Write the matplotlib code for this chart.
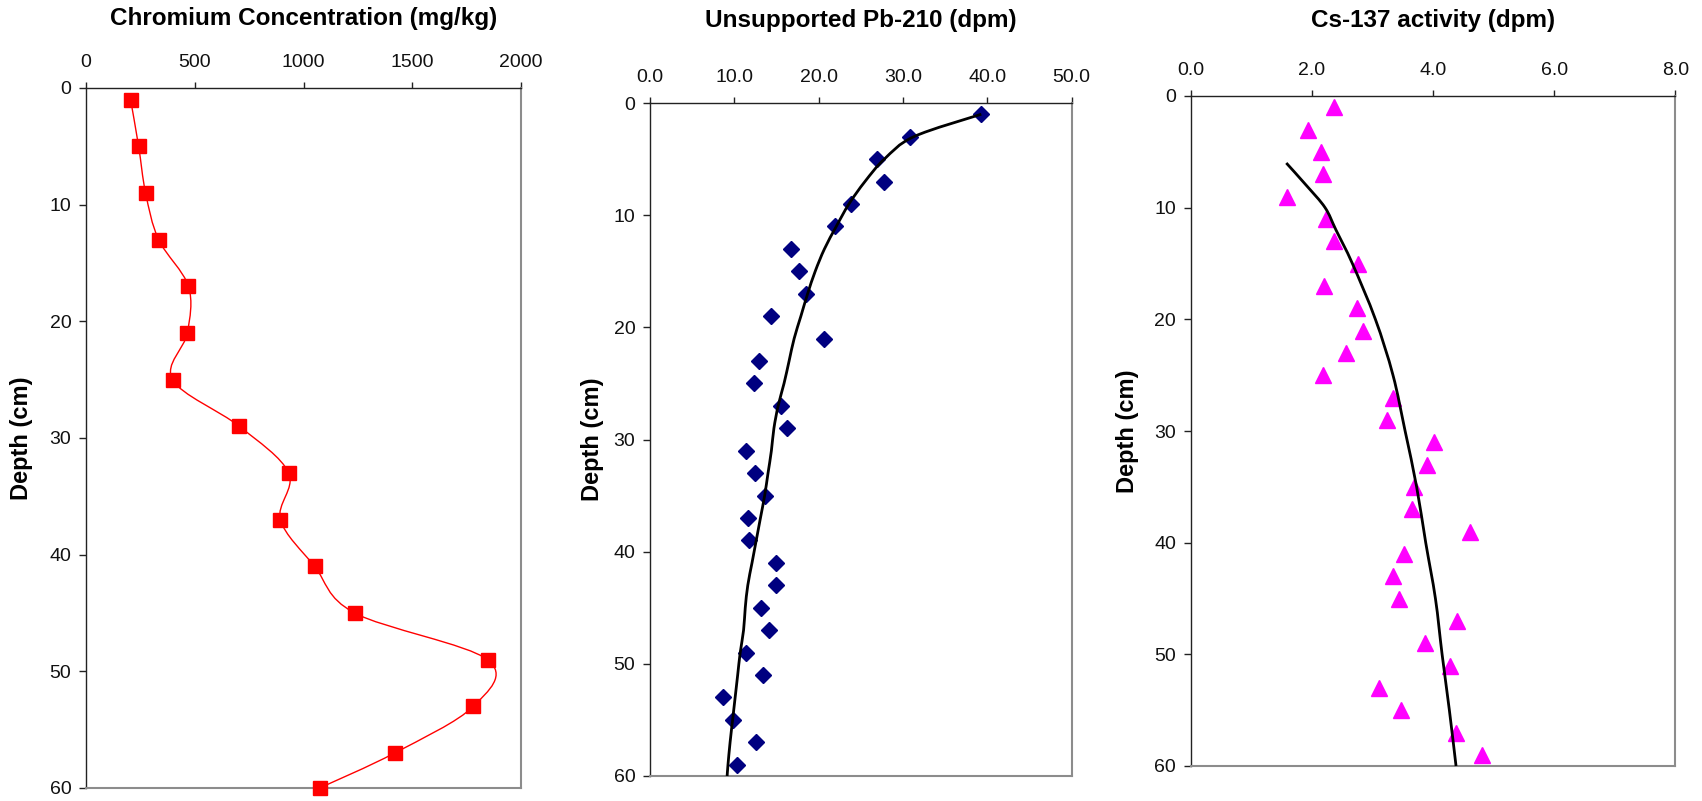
import numpy as np
import matplotlib
matplotlib.use("Agg")
import matplotlib.pyplot as plt
from matplotlib.path import Path
from matplotlib.patches import PathPatch

plt.rcParams['font.family'] = ['Liberation Sans', 'DejaVu Sans']

# chromium profile
cr_depth = [1, 5, 9, 13, 17, 21, 25, 29, 33, 37, 41, 45, 49, 53, 57, 60]
cr_conc = [205, 242, 274, 334, 471, 466, 398, 705, 932, 894, 1051, 1235, 1846, 1781, 1419, 1074]

# unsupported Pb-210, measured and model curve
pb_depth = list(range(1, 60, 2))
pb_act = [39.3, 30.8, 26.9, 27.7, 23.8, 21.9, 16.7, 17.7, 18.5, 14.3,
          20.6, 12.9, 12.3, 15.5, 16.3, 11.4, 12.5, 13.7, 11.6, 11.7,
          14.9, 14.9, 13.2, 14.1, 11.4, 13.4, 8.7, 9.8, 12.6, 10.3]
pb_fit_depth = [1, 3, 5, 7, 9, 11, 13, 15, 17, 19, 21, 23, 25, 27, 29, 31, 33, 35,
                37, 39, 41, 43, 45, 47, 49, 51, 53, 55, 57, 59, 60]
pb_fit = [39.3, 31.3, 27.8, 25.5, 23.6, 22.1, 20.7, 19.6, 18.7, 17.9, 17.1,
          16.5, 15.9, 15.2, 14.7, 14.4, 14.0, 13.6, 13.1, 12.6, 12.1, 11.6, 11.3,
          11.1, 10.7, 10.4, 10.1, 9.8, 9.5, 9.25, 9.15]

# Cs-137, measured and model curve
cs_depth = list(range(1, 60, 2))
cs_act = [2.36, 1.93, 2.15, 2.18, 1.59, 2.24, 2.36, 2.76, 2.20, 2.74,
          2.84, 2.56, 2.18, 3.34, 3.24, 4.02, 3.90, 3.69, 3.65, 4.61,
          3.52, 3.34, 3.44, 4.40, 3.87, 4.28, 3.11, 3.47, 4.38, 4.81]
cs_fit_depth = [6, 8, 10, 12, 15, 20, 25, 30, 35, 40, 45, 50, 55, 60]
cs_fit = [1.58, 1.91, 2.22, 2.40, 2.67, 3.05, 3.34, 3.54, 3.73, 3.88, 4.04, 4.15, 4.27, 4.38]


def smooth_path(xs, ys):
    # bezier segments through every point (catmull-rom style tangents)
    p = np.column_stack([xs, ys]).astype(float)
    ext = np.vstack([p[0], p, p[-1]])
    verts = [p[0]]
    codes = [Path.MOVETO]
    for i in range(len(p) - 1):
        p0, p1, p2, p3 = ext[i], ext[i + 1], ext[i + 2], ext[i + 3]
        verts += [p1 + (p2 - p0) / 6, p2 - (p3 - p1) / 6, p2]
        codes += [Path.CURVE4] * 3
    return Path(verts, codes)


def style_axes(ax, xmax, xstep, fmt):
    ax.set_xlim(0, xmax)
    ax.set_ylim(60, 0)
    ax.xaxis.tick_top()
    ticks = np.arange(0, xmax + xstep / 2, xstep)
    ax.set_xticks(ticks)
    ax.set_xticklabels([fmt.format(v) for v in ticks])
    ax.set_yticks(range(0, 61, 10))
    ax.tick_params(axis='x', direction='out', length=4.5, width=1, pad=8,
                   labelsize=14, color='#222222', labelcolor='#111111')
    ax.tick_params(axis='y', direction='out', length=5, width=1, pad=5.5,
                   labelsize=14, color='#222222', labelcolor='#111111')
    for s in ('left', 'top'):
        ax.spines[s].set_color('#222222')
        ax.spines[s].set_linewidth(1.0)
    for s in ('right', 'bottom'):
        ax.spines[s].set_color('#8c8c8c')
        ax.spines[s].set_linewidth(1.5)
    ax.set_ylabel('Depth (cm)', fontsize=17, fontweight='bold')


fig = plt.figure(figsize=(17.02, 8.01), dpi=100)
W, H = 1702, 801


def add_axes(left, right, top, bottom):
    return fig.add_axes([left / W, 1 - bottom / H, (right - left) / W, (bottom - top) / H])


def add_title(x, y, s):
    fig.text(x / W, 1 - y / H, s, ha='center', va='center',
             fontsize=17.5, fontweight='bold')


ax1 = add_axes(86, 521, 88, 788)
ax2 = add_axes(650, 1071.5, 103, 776)
ax3 = add_axes(1190.5, 1675.5, 96, 766)

# chromium
style_axes(ax1, 2000, 500, '{:.0f}')
ax1.add_patch(PathPatch(smooth_path(cr_conc, cr_depth), facecolor='none',
                        edgecolor='#ff0000', lw=1.0, clip_on=False))
ax1.plot(cr_conc, cr_depth, ls='none', marker='s', ms=9.7, color='#ff0000',
         clip_on=False, zorder=3)
ax1.yaxis.set_label_coords(-0.122, 0.5)
add_title(303.5, 19, 'Chromium Concentration (mg/kg)')

# Pb-210
style_axes(ax2, 50, 10, '{:.1f}')
ax2.plot(pb_act, pb_depth, ls='none', marker='D', ms=8.2, color='#000080',
         clip_on=False, zorder=3)
ax2.add_patch(PathPatch(smooth_path(pb_fit, pb_fit_depth), facecolor='none',
                        edgecolor='black', lw=2.0, clip_on=False, zorder=4))
ax2.yaxis.set_label_coords(-0.109, 0.5)
add_title(860.7, 20, 'Unsupported Pb-210 (dpm)')

# Cs-137
style_axes(ax3, 8, 2, '{:.1f}')
ax3.plot(cs_act, cs_depth, ls='none', marker='^', ms=12, color='#ff00ff',
         clip_on=False, zorder=3)
ax3.add_patch(PathPatch(smooth_path(cs_fit, cs_fit_depth), facecolor='none',
                        edgecolor='black', lw=2.0, clip_on=False, zorder=4))
ax3.yaxis.set_label_coords(-0.106, 0.5)
add_title(1433, 20, 'Cs-137 activity (dpm)')

fig.savefig('out.png', dpi=100)
